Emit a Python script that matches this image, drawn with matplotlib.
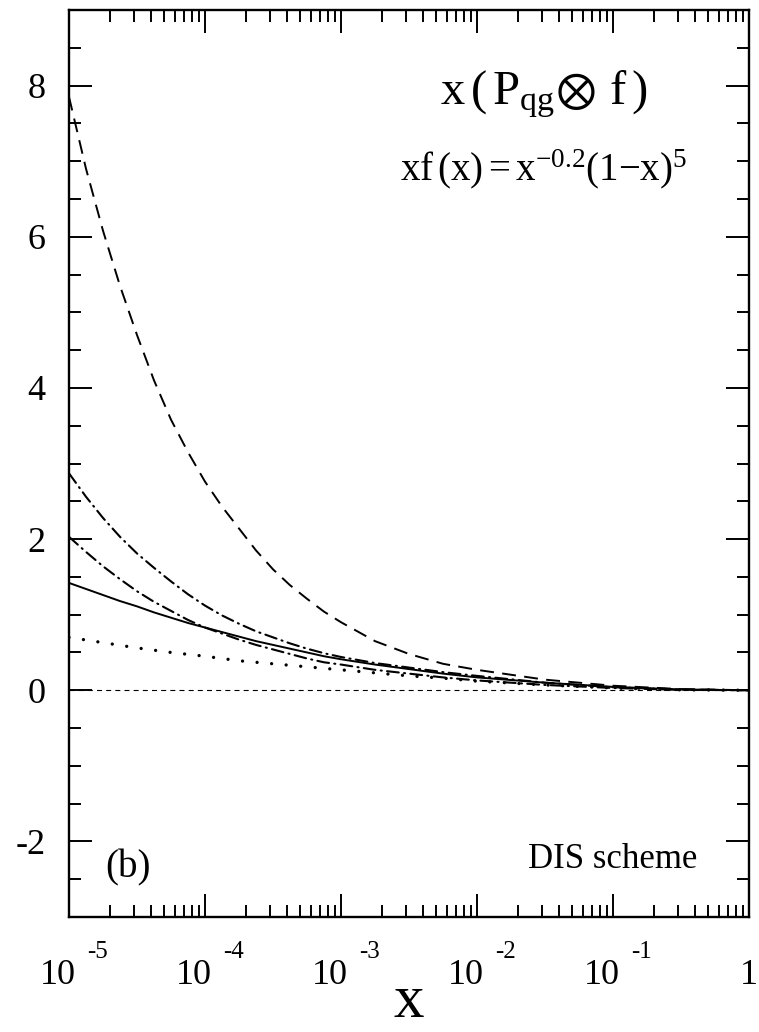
import numpy as np
import matplotlib
matplotlib.use("Agg")
import matplotlib.pyplot as plt
from matplotlib.ticker import LogLocator, MultipleLocator, NullFormatter, FixedLocator
from matplotlib import transforms

plt.rcParams["font.family"] = ["Liberation Serif", "DejaVu Serif"]
plt.rcParams["mathtext.fontset"] = "stix"
plt.rcParams["lines.scale_dashes"] = False

# readings: log10(x) and the curves
log_x = [-5.0, -4.875, -4.75, -4.625, -4.5, -4.375, -4.25, -4.125, -4.0,
         -3.875, -3.75, -3.625, -3.5, -3.375, -3.25, -3.125, -3.0,
         -2.75, -2.5, -2.25, -2.0, -1.5, -1.0, -0.5, 0.0]
dashed = [7.85, 6.90, 6.08, 5.35, 4.70, 4.10, 3.58, 3.15, 2.76,
          2.43, 2.14, 1.85, 1.60, 1.39, 1.21, 1.04, 0.90,
          0.65, 0.48, 0.35, 0.27, 0.14, 0.06, 0.015, 0.0]
dashdot_upper = [2.87, 2.56, 2.28, 2.03, 1.81, 1.62, 1.44, 1.27, 1.12,
                 0.99, 0.88, 0.78, 0.70, 0.62, 0.55, 0.49, 0.44,
                 0.36, 0.30, 0.24, 0.19, 0.10, 0.04, 0.01, 0.0]
dashdot_lower = [2.03, 1.83, 1.64, 1.47, 1.31, 1.17, 1.05, 0.93, 0.83,
                 0.75, 0.67, 0.60, 0.54, 0.48, 0.42, 0.37, 0.34,
                 0.27, 0.22, 0.17, 0.13, 0.07, 0.03, 0.005, 0.0]
solid = [1.42, 1.34, 1.26, 1.18, 1.11, 1.03, 0.96, 0.89, 0.83,
         0.77, 0.71, 0.65, 0.60, 0.55, 0.50, 0.45, 0.41,
         0.34, 0.28, 0.22, 0.17, 0.10, 0.045, 0.01, 0.0]
dotted = [0.70, 0.665, 0.63, 0.595, 0.56, 0.53, 0.50, 0.475, 0.45,
          0.42, 0.39, 0.37, 0.35, 0.33, 0.31, 0.29, 0.27,
          0.23, 0.19, 0.16, 0.12, 0.07, 0.03, 0.005, 0.0]

x = 10.0 ** np.array(log_x)

fig = plt.figure(figsize=(7.59, 10.32), dpi=100)
ax = fig.add_axes([69 / 759, 115 / 1032, 680 / 759, 907 / 1032])

lw = 1.4
ax.plot(x, dashed, color="black", lw=lw, dashes=(10, 6))
ax.plot(x, dashdot_upper, color="black", lw=1.5, dashes=(8.5, 3.8, 0.8, 3.8),
        dash_capstyle="round")
ax.plot(x, dashdot_lower, color="black", lw=1.5, dashes=(8.5, 3.8, 0.8, 3.8),
        dash_capstyle="round")
ax.plot(x, solid, color="black", lw=lw)
ax.plot(x, dotted, color="black", lw=2.4, dashes=(0.01, 10.5),
        dash_capstyle="round")
ax.axhline(0, color="black", lw=0.8, dashes=(3.6, 3.0))

ax.set_xscale("log")
ax.set_xlim(1e-5, 1)
ax.set_ylim(-3, 9)

for s in ax.spines.values():
    s.set_linewidth(1.7)

ax.xaxis.set_major_locator(FixedLocator([1e-5, 1e-4, 1e-3, 1e-2, 1e-1, 1]))
ax.xaxis.set_minor_locator(LogLocator(base=10, subs=np.arange(2, 10), numticks=20))
ax.xaxis.set_major_formatter(NullFormatter())
ax.xaxis.set_minor_formatter(NullFormatter())
ax.yaxis.set_major_locator(FixedLocator([-2, 0, 2, 4, 6, 8]))
ax.yaxis.set_minor_locator(MultipleLocator(0.5))
ax.set_yticklabels(["-2", "0", "2", "4", "6", "8"])

ax.tick_params(which="both", direction="in", top=True, right=True, width=1.4)
ax.tick_params(which="major", length=16.5)
ax.tick_params(which="minor", length=8.5)
ax.tick_params(axis="y", labelsize=26, pad=17)

# x tick labels as 10 with raised exponent
base = transforms.blended_transform_factory(ax.transData, ax.transAxes)
exps = ["-5", "-4", "-3", "-2", "-1"]
for k, e in enumerate(exps):
    xt = 10.0 ** (-5 + k)
    t1 = transforms.offset_copy(base, fig=fig, x=-11, y=-67, units="dots")
    ax.text(xt, 0, "10", transform=t1, ha="center", va="baseline",
            fontsize=26, clip_on=False)
    t2 = transforms.offset_copy(base, fig=fig, x=18, y=-41, units="dots")
    ax.text(xt, 0, e, transform=t2, ha="left", va="baseline",
            fontsize=18, clip_on=False)
t1 = transforms.offset_copy(base, fig=fig, x=0, y=-67, units="dots")
ax.text(1.0, 0, "1", transform=t1, ha="center", va="baseline",
        fontsize=26, clip_on=False)

fig.text(409 / 759, 2 / 1032, "x", ha="center", va="bottom", fontsize=44)

ax.text(0.031, 7.75, r"$\mathregular{x\,(\,P_{qg}\!\otimes\,f\,)}$",
        ha="center", va="baseline", fontsize=35)
ax.text(0.031, 6.74, r"$\mathregular{xf\,(x) = x^{-0.2}(1{-}x)^{5}}$",
        ha="center", va="baseline", fontsize=28)
ax.text(1.84e-5, -2.48, "(b)", ha="left", va="baseline", fontsize=28)
ax.text(0.415, -2.35, "DIS scheme", ha="right", va="baseline", fontsize=25)

fig.savefig("out.png", dpi=100)
